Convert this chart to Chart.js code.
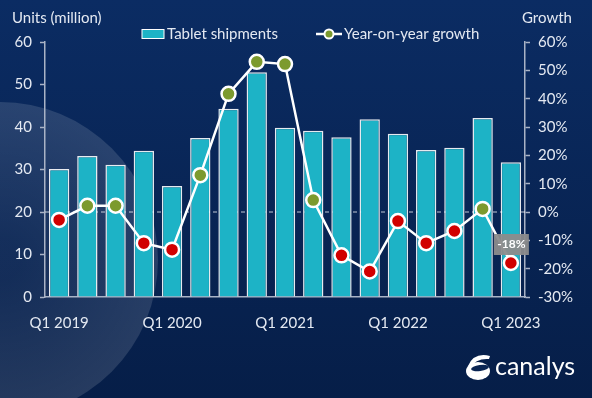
<!DOCTYPE html>
<html>
<head>
<meta charset="utf-8">
<script src="https://cdn.jsdelivr.net/npm/chart.js@4"></script>
<style>
  html, body { margin: 0; padding: 0; background: #0a2a5e; }
  #c { display: block; }
</style>
</head>
<body>
<canvas id="c" width="592" height="398"></canvas>
<script>
const quarters = ['Q1 2019', 'Q2 2019', 'Q3 2019', 'Q4 2019',
                  'Q1 2020', 'Q2 2020', 'Q3 2020', 'Q4 2020',
                  'Q1 2021', 'Q2 2021', 'Q3 2021', 'Q4 2021',
                  'Q1 2022', 'Q2 2022', 'Q3 2022', 'Q4 2022',
                  'Q1 2023'];
const shipments = [30.1, 33.2, 31.1, 34.4, 26.1, 37.4, 44.3, 52.9,
                   39.8, 39.1, 37.6, 41.8, 38.4, 34.6, 35.1, 42.1, 31.7];
const growth = [-2.8, 2.2, 2.2, -11, -13.3, 13, 41.7, 53,
                52.2, 4.2, -15.3, -21, -3.2, -11, -6.7, 1.1, -18];
const unitTicks = [0, 10, 20, 30, 40, 50, 60];
const growthTicks = [-30, -20, -10, 0, 10, 20, 30, 40, 50, 60];

const txt = '#e4e9f2';
const axisCol = '#a9b3c6';
const font = 'Lato, "Open Sans", sans-serif';
const barCol = '#1db3c6';
const upCol = '#7c9a2e';
const downCol = '#d10000';

const decor = {
  id: 'decor',
  beforeDraw(chart) {
    const c = chart.ctx;
    const w = chart.width, h = chart.height;
    c.save();
    const g = c.createLinearGradient(0, 0, 0, h);
    g.addColorStop(0, '#0b2c63');
    g.addColorStop(1, '#061e48');
    c.fillStyle = g;
    c.fillRect(0, 0, w, h);
    // soft light disc in the lower left
    const r = c.createRadialGradient(0, 260, 20, 0, 260, 158);
    r.addColorStop(0, 'rgba(255,255,255,0.05)');
    r.addColorStop(1, 'rgba(255,255,255,0.13)');
    c.fillStyle = r;
    c.beginPath();
    c.arc(0, 260, 158, 0, Math.PI * 2);
    c.fill();
    c.restore();
  },
  beforeDatasetsDraw(chart) {
    // dashed reference line at 0% growth
    const c = chart.ctx;
    const a = chart.chartArea;
    const y = chart.scales.y2.getPixelForValue(0);
    c.save();
    c.strokeStyle = 'rgba(255,255,255,0.75)';
    c.lineWidth = 1;
    c.setLineDash([4, 3]);
    c.beginPath();
    c.moveTo(a.left, y);
    c.lineTo(a.right, y);
    c.stroke();
    c.restore();
  },
  afterDraw(chart) {
    const c = chart.ctx;
    c.save();
    c.fillStyle = txt;
    c.textBaseline = 'middle';
    c.font = '15px ' + font;
    c.textAlign = 'left';
    c.fillText('Units (million)', 12, 18);
    c.fillText('Growth', 522, 18);

    // legend
    c.fillStyle = barCol;
    c.strokeStyle = '#ffffff';
    c.lineWidth = 1;
    c.fillRect(142, 29.5, 22, 9);
    c.strokeRect(142, 29.5, 22, 9);
    c.fillStyle = txt;
    c.fillText('Tablet shipments', 167, 34);
    c.strokeStyle = '#ffffff';
    c.lineWidth = 2.5;
    c.beginPath();
    c.moveTo(316, 34);
    c.lineTo(342, 34);
    c.stroke();
    c.beginPath();
    c.arc(329, 34, 4.5, 0, Math.PI * 2);
    c.fillStyle = upCol;
    c.fill();
    c.lineWidth = 2;
    c.stroke();
    c.fillStyle = txt;
    c.fillText('Year-on-year growth', 344, 34);

    // callout for the latest quarter
    const meta = chart.getDatasetMeta(1);
    const last = meta.data[meta.data.length - 1];
    const label = growth[growth.length - 1].toFixed(0) + '%';
    c.font = 'bold 12px ' + font;
    c.textAlign = 'center';
    c.fillStyle = 'rgba(140,140,140,0.95)';
    c.fillRect(last.x - 17, last.y - 29, 35, 21);
    c.fillStyle = '#ffffff';
    c.fillText(label, last.x + 0.5, last.y - 18.5);

    // canalys mark
    c.fillStyle = '#ffffff';
    c.beginPath();
    c.ellipse(478, 371, 12, 9, 0, 0, Math.PI * 2);
    c.fill();
    c.beginPath();
    c.moveTo(468, 366);
    c.quadraticCurveTo(474, 352, 490, 356);
    c.lineTo(489, 359);
    c.quadraticCurveTo(476, 358, 470, 368);
    c.closePath();
    c.fill();
    c.fillStyle = '#0a2553';
    c.beginPath();
    c.ellipse(480, 368, 9, 3, -0.15, 0, Math.PI * 2);
    c.fill();
    c.fillStyle = '#ffffff';
    c.font = '25px ' + font;
    c.textAlign = 'left';
    c.fillText('canalys', 495, 367);
    c.restore();
  }
};

new Chart(document.getElementById('c'), {
  data: {
    labels: quarters,
    datasets: [{
      type: 'bar',
      label: 'Tablet shipments',
      data: shipments,
      yAxisID: 'y',
      backgroundColor: barCol,
      borderColor: 'rgba(255,255,255,0.9)',
      borderWidth: 1.5,
      categoryPercentage: 1,
      barPercentage: 0.72,
      order: 2
    }, {
      type: 'line',
      label: 'Year-on-year growth',
      data: growth,
      yAxisID: 'y2',
      borderColor: '#ffffff',
      borderWidth: 2.5,
      tension: 0,
      pointRadius: 7,
      pointBorderWidth: 2.5,
      pointBorderColor: '#ffffff',
      pointBackgroundColor: growth.map(v => v >= 0 ? upCol : downCol),
      order: 1
    }]
  },
  options: {
    responsive: false,
    devicePixelRatio: 1,
    animation: false,
    layout: { padding: { top: 42, left: 0, right: 0, bottom: 0 } },
    plugins: {
      legend: { display: false },
      tooltip: { enabled: false }
    },
    scales: {
      x: {
        offset: true,
        grid: { display: false },
        border: { color: axisCol, width: 1.5 },
        ticks: {
          autoSkip: false,
          maxRotation: 0,
          color: txt,
          font: { family: font, size: 15 },
          padding: 9,
          callback: (v, i) => i % 4 === 0 ? quarters[i] : ''
        },
        afterFit: s => { s.height = 101; }
      },
      y: {
        position: 'left',
        min: 0,
        max: 60,
        afterBuildTicks: s => { s.ticks = unitTicks.map(v => ({ value: v })); },
        grid: { drawOnChartArea: false, drawTicks: true, tickLength: 5, tickColor: axisCol, tickWidth: 1.5 },
        border: { color: axisCol, width: 1.5 },
        ticks: { color: txt, font: { family: font, size: 15 }, padding: 8 },
        afterFit: s => { s.width = 45; }
      },
      y2: {
        position: 'right',
        min: -30,
        max: 60,
        afterBuildTicks: s => { s.ticks = growthTicks.map(v => ({ value: v })); },
        grid: { drawOnChartArea: false, drawTicks: true, tickLength: 5, tickColor: axisCol, tickWidth: 1.5 },
        border: { color: axisCol, width: 1.5 },
        ticks: {
          color: txt,
          font: { family: font, size: 15 },
          padding: 8,
          callback: v => v + '%'
        },
        afterFit: s => { s.width = 67; }
      }
    }
  },
  plugins: [decor]
});
</script>
</body>
</html>
